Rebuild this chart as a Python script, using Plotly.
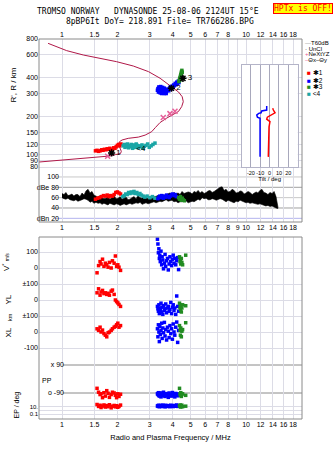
import plotly.graph_objects as go

# ------------------------------------------------------------------ data
TITLE_1 = "TROMSO NORWAY   DYNASONDE 25-08-06 2124UT 15°E"
TITLE_2 = "8pBP6It DoY= 218.891 File= TR766286.BPG"
WARNING = "HPTx is OFF!"
X_TITLE = "Radio and Plasma Frequency / MHz"

FREQ_TICKS_OUTER = [1, 1.5, 2, 3, 4, 5, 6, 7, 8, 10, 12, 14, 16, 18]
FREQ_TICKS_MID = [1, 1.5, 2, 3, 4, 5, 6, 7, 8, 9, 10, 12, 14, 16, 18]
FREQ_MINOR = [9]
HEIGHT_TICKS = [80, 90, 100, 120, 150, 200, 300, 400, 600, 800]
AMP_TICKS = [100, 80, 60, 40, 20]
AMP_TEXT = ["100", "dBe 80", "60", "40", "dBn 20"]
TILT_TICKS = [-20, -10, 0, 10, 20]
VS_TICKS = [100, 0, -100]
VS_TEXT = ["100", "0", "±100"]
YL_TICKS = [0, -100]
YL_TEXT = ["0", "±100"]
XL_TICKS = [0, -100]
XL_TEXT = ["0", "-100"]
PP_TICKS = [90, -90]
PP_TEXT = ["x 90", "o -90"]
EP_TICKS = [10, 0.1]
EP_TEXT = ["10.", "0.1"]
EP_MINOR = [1]

# true-height / plasma-frequency profile (MHz, km)
PROF_F = [0.75, 1.06, 1.36, 1.82, 1.95, 2.08, 2.10, 2.06, 2.03, 2.05, 2.12, 2.29, 2.60, 2.83,
          3.07, 3.22, 3.41, 3.71, 4.03, 4.29, 4.47, 4.56, 4.50, 4.30, 4.03, 3.80, 3.41, 2.95,
          2.44, 1.98, 1.61, 1.305, 1.06, 0.84]
PROF_H = [87.5, 91, 94.6, 97.5, 100, 102, 106, 112, 120, 126, 130, 134, 137, 142,
          151, 163, 178, 193, 205, 217, 237, 259, 283, 308, 330, 352, 395, 445,
          492, 532, 565, 600, 649, 740]
NEXT_F = [1.77, 3.55, 3.86, 4.11]
NEXT_H = [97, 195, 209, 218]

# echo traces in the ionogram (MHz, km)
I1_F = [1.52, 1.55, 1.58, 1.61, 1.64, 1.67, 1.70, 1.73, 1.76, 1.79, 1.82, 1.85, 1.88, 1.91,
        1.94, 1.97, 2.00, 2.03, 2.06, 2.09]
I1_H = [107, 108, 106, 107, 109, 108, 110, 109, 111, 110, 112, 109, 110, 113,
        112, 115, 118, 120, 117, 121]
I4_F = [2.15, 2.18, 2.20, 2.22, 2.25, 2.27, 2.30, 2.32, 2.35, 2.38, 2.40, 2.42, 2.45, 2.48,
        2.50, 2.53, 2.56, 2.60, 2.64, 2.68, 2.72, 2.76, 2.80, 2.86, 2.92, 2.98, 3.05, 3.12, 3.20]
I4_H = [117, 120, 114, 119, 116, 121, 113, 118, 115, 120, 117, 112, 119, 116,
        114, 121, 118, 113, 117, 115, 119, 112, 116, 118, 121, 114, 117, 120, 123]
I2_F = [3.30, 3.32, 3.34, 3.35, 3.37, 3.38, 3.40, 3.41, 3.43, 3.45, 3.46, 3.48, 3.50, 3.52,
        3.54, 3.56, 3.58, 3.60, 3.62, 3.64, 3.66, 3.68, 3.70, 3.73, 3.76, 3.80, 3.84, 3.88,
        3.92, 3.96, 4.00, 4.04, 4.08, 4.12, 4.16, 4.20, 4.24, 4.28, 4.32, 4.36,
        3.36, 3.44, 3.52, 3.60, 3.68, 3.48, 3.56]
I2_H = [318, 328, 308, 322, 314, 332, 305, 320, 312, 326, 302, 316, 310, 322,
        306, 318, 328, 300, 314, 308, 320, 304, 312, 318, 325, 315, 330, 338,
        326, 342, 335, 350, 345, 360, 352, 368, 358, 375, 365, 385,
        338, 340, 335, 330, 300, 300, 310]
I3_F = [4.32, 4.34, 4.36, 4.38, 4.40, 4.42, 4.44, 4.46, 4.48, 4.50, 4.40, 4.45]
I3_H = [372, 380, 392, 400, 410, 420, 432, 445, 455, 440, 385, 415]

# trace identification labels
LAB_F = [1.86, 3.93, 4.54]
LAB_H = [103, 330, 394]
LAB_T = ["1", "2", "3"]
LAB4_F = [2.68]
LAB4_H = [110]

# tilt inset (km, deg)
THX_H = [96, 156, 165, 181, 189, 196, 204, 212, 223, 230]
THX_D = [-1.4, -1.4, -0.6, 0.4, -3.1, -2.4, 2.2, 5.8, 4.0, 3.3]
THY_H = [96, 192, 196, 204, 210, 212, 219, 223, 240]
THY_D = [-10.2, -10.2, -13.0, -13.7, -11.6, -9.1, -8.4, -3.1, -3.1]

# amplitude band (MHz, upper dB, lower dB)
AMP_F = [1.00, 1.025, 1.05, 1.077, 1.105, 1.132, 1.16, 1.19, 1.22, 1.252, 1.285, 1.317, 1.35, 1.385,
         1.42, 1.455, 1.49, 1.53, 1.57, 1.61, 1.65, 1.69, 1.735, 1.777, 1.82, 1.87, 1.92, 1.97,
         2.02, 2.07, 2.12, 2.175, 2.23, 2.285, 2.34, 2.40, 2.46, 2.525, 2.59, 2.655, 2.72, 2.79,
         2.86, 2.935, 3.01, 3.085, 3.16, 3.24, 3.32, 3.405, 3.49, 3.585, 3.68, 3.77, 3.86, 3.96,
         4.06, 4.165, 4.27, 4.38, 4.49, 4.605, 4.72, 4.845, 4.97, 5.095, 5.22, 5.355, 5.49, 5.63,
         5.77, 5.92, 6.07, 6.225, 6.38, 6.545, 6.71, 6.88, 7.05, 7.23, 7.41, 7.60, 7.79, 7.99,
         8.19, 8.40, 8.61, 8.83, 9.06, 9.29, 9.52, 9.76, 10.0, 10.25, 10.5, 10.8, 11.1, 11.35,
         11.6, 11.9, 12.2, 12.5, 12.8, 13.15, 13.5, 13.85, 14.2, 14.55, 14.9]
AMP_HI = [68, 66, 70, 64, 65, 67, 63, 66, 66, 62, 69, 65, 73, 76,
          69, 72, 65, 63, 61, 64, 61, 58, 59, 62, 57, 60, 63, 58,
          59, 62, 57, 60, 61, 56, 57, 60, 62, 58, 64, 60, 59, 62,
          61, 58, 57, 60, 61, 63, 64, 62, 66, 64, 66, 68, 69, 66,
          70, 67, 69, 66, 72, 68, 69, 71, 70, 67, 72, 70, 74, 69,
          72, 68, 70, 73, 74, 70, 72, 75, 78, 80, 81, 74, 76, 71,
          72, 76, 74, 69, 70, 73, 72, 67, 69, 72, 70, 66, 69, 71,
          69, 74, 76, 70, 69, 66, 70, 68, 72, 62, 42]
AMP_LO = [60, 58, 57, 59, 56, 55, 54, 56, 53, 55, 56, 58, 57, 55,
          51, 53, 49, 51, 49, 50, 47, 49, 48, 46, 49, 47, 46, 48,
          47, 45, 46, 48, 46, 47, 49, 47, 48, 50, 49, 51, 47, 49,
          50, 48, 50, 51, 52, 50, 52, 53, 52, 54, 56, 53, 54, 55,
          52, 53, 50, 52, 52, 55, 54, 50, 51, 53, 52, 55, 57, 55,
          60, 58, 59, 56, 56, 58, 57, 55, 56, 58, 57, 55, 52, 55,
          54, 52, 50, 53, 52, 55, 54, 52, 50, 51, 49, 50, 49, 48,
          47, 48, 46, 45, 44, 45, 43, 44, 42, 40, 39]
A1_F = [1.52, 1.56, 1.60, 1.64, 1.68, 1.72, 1.76, 1.80, 1.84, 1.88, 1.92, 1.96, 2.00, 2.04, 2.08]
A1_DB = [57, 59, 60, 62, 64, 63, 65, 62, 64, 63, 66, 70, 71, 69, 67]
A4_F = [2.14, 2.18, 2.22, 2.26, 2.30, 2.34, 2.38, 2.42, 2.46, 2.50, 2.55, 2.60, 2.65, 2.70,
        2.76, 2.82, 2.90, 3.00, 3.10, 3.20]
A4_DB = [62, 64, 67, 66, 70, 68, 71, 69, 72, 68, 70, 66, 68, 65, 63, 61, 63, 60, 62, 59]
A2_F = [3.32, 3.36, 3.40, 3.44, 3.48, 3.52, 3.56, 3.60, 3.65, 3.70, 3.76, 3.82, 3.88, 3.94,
        4.00, 4.06, 4.12, 4.18]
A2_DB = [58, 61, 63, 60, 64, 62, 59, 63, 61, 65, 62, 60, 63, 66, 67, 64, 66, 62]
A3_F = [4.30, 4.35, 4.40, 4.45, 4.50, 4.55, 4.62]
A3_DB = [60, 57, 62, 55, 59, 56, 54]

# lower panel parameters per echo group
R_F = [1.55, 1.58, 1.61, 1.63, 1.66, 1.69, 1.72, 1.75, 1.78, 1.81, 1.85, 1.88, 1.92, 1.95, 1.98, 2.01, 2.04, 2.08]
R_VS = [-30, 15, 40, 25, 55, 10, 30, 20, 5, 35, 0, 45, 30, 75, 10, 20, 5, -15]
R_YL = [45, 70, 30, 50, 60, 40, 45, 35, 42, 30, 55, 62, 35, 0, -10, -18, -28, -40]
R_XL = [20, 10, 30, 0, 12, -10, -20, -30, -5, 0, 10, 20, 30, 35, 45, 55, 30, 40]
R_PP = [-60, -85, -100, -95, -120, -88, -110, -75, -92, -118, -100, -85, -90, -105, -120, -95, -112, -98]
R_EP = [40, 12, 25, 6, 15, 30, 8, 20, 10, 35, 5, 14, 22, 9, 18, 7, 12, 28]

B_F = [3.30, 3.32, 3.34, 3.36, 3.38, 3.40, 3.42, 3.45, 3.48, 3.50, 3.53, 3.56, 3.60, 3.63, 3.66,
       3.70, 3.74, 3.78, 3.82, 3.86, 3.90, 3.94, 3.98, 4.02, 4.06, 4.10, 4.15, 4.20, 4.25, 4.30]
B_VS = [180, 150, 95, 120, 60, 80, 40, 105, 20, 70, 50, -5, 30, 85, 10,
        45, 60, -12, 25, 70, 40, 15, 55, 80, 30, 60, 20, 45, 65, -10]
B_YL = [-40, -55, -70, -30, -85, -50, -60, -20, -75, -45, -90, -35, -65, -55, -25,
        -80, -50, -40, -70, -60, -15, -85, -45, -30, -65, -50, -90, 25, -40, -70]
B_XL = [20, -30, 45, 0, -60, 35, -15, 10, 55, -40, 25, -5, 60, -25, 15,
        -50, 30, 5, -35, 40, -10, 20, -45, 50, 0, -20, 30, 62, -65, 10]
B_PP = [-95, -100, -88, -105, -110, -92, -98, -115, -90, -102, -108, -85, -96, -112, -100,
        -94, -106, -118, -90, -99, -104, -110, -87, -97, -102, -115, -93, -100, -108, -96]
B_EP = [15, 20, 12, 25, 10, 18, 14, 22, 11, 16, 28, 13, 19, 9, 24,
        15, 12, 20, 17, 10, 26, 14, 18, 11, 22, 16, 13, 30, 12, 19]

G_F = [4.35, 4.38, 4.40, 4.42, 4.45, 4.48, 4.52, 4.70]
G_VS = [70, 40, 55, 25, 60, 35, 20, 80]
G_YL = [-20, -45, -60, -35, -75, -50, -30, -36]
G_XL = [40, 10, -20, 25, -30, 5, 15, 58]
G_PP = [-60, -95, -105, -88, -112, -100, -95, -105]
G_EP = [20, 12, 30, 8, 15, 25, 10, 14]

LEGEND_TOP = ["T60dB", "UnCl", "NeXtYZ", "Θx–Θy"]
LEGEND_TRACES = ["✱1", "✱2", "✱3", "&lt;4"]

assert len(AMP_F) == len(AMP_HI) == len(AMP_LO)

# ------------------------------------------------------------------ layout helpers
W, H = 335, 451
ML, MR, MT, MB = 39, 33, 39, 32
PW = W - ML - MR
PH = H - MT - MB


def py(ypx):
    return (H - MB - ypx) / PH


def px(xpx):
    return (xpx - ML) / PW


RED, BLUE, GREEN, TEAL = "#ff0000", "#0000ff", "#228b22", "#1aa6a6"
CRIMSON, PINK = "#b01848", "#e8609a"
GRID = "#dcdce6"
FRAME = "#8a8a8a"
FONT = "Liberation Sans"
TF = dict(family=FONT, size=7, color="black")
SQ = 3.5

fig = go.Figure()


def sq(x, y, color, xa, ya):
    fig.add_trace(go.Scatter(x=x, y=y, mode="markers", xaxis=xa, yaxis=ya,
                             marker=dict(symbol="square", size=SQ, color=color, line=dict(width=0))))


# amplitude band
fig.add_trace(go.Scatter(x=AMP_F + AMP_F[::-1], y=AMP_HI + AMP_LO[::-1], mode="lines",
                         fill="toself", fillcolor="black", line=dict(color="black", width=0.6),
                         xaxis="x2", yaxis="y6"))
sq(A1_F, A1_DB, RED, "x2", "y6")
sq(A4_F, A4_DB, TEAL, "x2", "y6")
sq(A2_F, A2_DB, BLUE, "x2", "y6")
sq(A3_F, A3_DB, GREEN, "x2", "y6")

# ionogram
fig.add_trace(go.Scatter(x=PROF_F, y=PROF_H, mode="lines", line=dict(color=CRIMSON, width=1),
                         xaxis="x2", yaxis="y7"))
fig.add_trace(go.Scatter(x=NEXT_F, y=NEXT_H, mode="markers", xaxis="x2", yaxis="y7",
                         marker=dict(symbol="x-thin-open", size=5, color=PINK, line=dict(width=1.5, color=PINK))))
sq(I1_F, I1_H, RED, "x2", "y7")
sq(I4_F, I4_H, TEAL, "x2", "y7")
sq(I2_F, I2_H, BLUE, "x2", "y7")
sq(I3_F, I3_H, GREEN, "x2", "y7")
fig.add_trace(go.Scatter(x=LAB_F, y=LAB_H, text=LAB_T, mode="markers+text", textposition="middle right",
                         textfont=dict(family=FONT, size=8, color="black"), xaxis="x2", yaxis="y7",
                         marker=dict(symbol="asterisk-open", size=6, color="black", line=dict(width=1.5, color="black"))))
fig.add_trace(go.Scatter(x=LAB4_F, y=LAB4_H, text=["&lt;4"], mode="text",
                         textfont=dict(family=FONT, size=8, color="black"), xaxis="x2", yaxis="y7"))
# empty trace so the top frequency axis exists
fig.add_trace(go.Scatter(x=FREQ_TICKS_OUTER, y=[None] * len(FREQ_TICKS_OUTER), mode="markers",
                         xaxis="x3", yaxis="y7"))

# tilt inset
fig.add_trace(go.Scatter(x=THY_D, y=THY_H, mode="lines", line=dict(color=BLUE, width=1.5), xaxis="x4", yaxis="y8"))
fig.add_trace(go.Scatter(x=THX_D, y=THX_H, mode="lines", line=dict(color=RED, width=1.5), xaxis="x4", yaxis="y8"))

# lower panels
for F, VS, YL, XL, PP, EP, c in [(R_F, R_VS, R_YL, R_XL, R_PP, R_EP, RED),
                                 (B_F, B_VS, B_YL, B_XL, B_PP, B_EP, BLUE),
                                 (G_F, G_VS, G_YL, G_XL, G_PP, G_EP, GREEN)]:
    sq(F, VS, c, "x", "y5")
    sq(F, YL, c, "x", "y4")
    sq(F, XL, c, "x", "y3")
    sq(F, PP, c, "x", "y2")
    sq(F, EP, c, "x", "y")

XR = [-0.125, 1.304]
cx = dict(type="log", range=XR, showgrid=True, gridcolor=GRID, gridwidth=1, tickangle=0,
          zeroline=False, showline=False, ticks="", tickfont=TF, fixedrange=True)
cy = dict(showgrid=True, gridcolor=GRID, gridwidth=1, zeroline=False, showline=False, ticks="",
          tickfont=TF, fixedrange=True)
minor_x = dict(tickvals=FREQ_MINOR, showgrid=True, gridcolor=GRID, gridwidth=1, ticks="")

layout = dict(
    width=W, height=H, margin=dict(l=ML, r=MR, t=MT, b=MB, pad=0),
    paper_bgcolor="white", plot_bgcolor="white", showlegend=False, hovermode=False,
    font=dict(family=FONT, size=7, color="black"),
    xaxis=dict(cx, domain=[0, 1], anchor="y", tickvals=FREQ_TICKS_OUTER,
               ticktext=[str(v) for v in FREQ_TICKS_OUTER], minor=minor_x,
               title=dict(text=X_TITLE, font=dict(family=FONT, size=7.5), standoff=7)),
    xaxis2=dict(cx, domain=[0, 1], anchor="y6", tickvals=FREQ_TICKS_MID,
                ticktext=[str(v) for v in FREQ_TICKS_MID]),
    xaxis3=dict(cx, overlaying="x2", anchor="y7", side="top", tickvals=FREQ_TICKS_OUTER,
                ticktext=[str(v) for v in FREQ_TICKS_OUTER], showgrid=False),
    xaxis4=dict(range=[-30, 30], domain=[px(241.5), px(297.7)], anchor="y8", tickvals=TILT_TICKS,
                ticktext=[str(t) for t in TILT_TICKS], showgrid=True, gridcolor="#a8a8bc", tickangle=0,
                zeroline=False, showline=True, mirror=True, linecolor="#b4b4c8", ticks="",
                tickfont=dict(family=FONT, size=5.5), fixedrange=True,
                title=dict(text="Tilt / deg", font=dict(family=FONT, size=6), standoff=0)),
    yaxis=dict(cy, type="log", domain=[py(419), py(400)], range=[-2.37, 2.836], anchor="x",
               tickvals=EP_TICKS, ticktext=EP_TEXT, tickfont=dict(family=FONT, size=6),
               minor=dict(tickvals=EP_MINOR, showgrid=True, gridcolor=GRID, ticks="")),
    yaxis2=dict(cy, domain=[py(400), py(356)], range=[-135, 147.86], anchor="free", position=px(64),
                tickvals=PP_TICKS, ticktext=PP_TEXT, showgrid=False),
    yaxis3=dict(cy, domain=[py(356), py(318)], range=[-150, 87.5], anchor="x",
                tickvals=XL_TICKS, ticktext=XL_TEXT),
    yaxis4=dict(cy, domain=[py(318), py(286)], range=[-112.5, 87.5], anchor="x",
                tickvals=YL_TICKS, ticktext=YL_TEXT),
    yaxis5=dict(cy, domain=[py(286), py(237)], range=[-112.5, 193.75], anchor="x",
                tickvals=VS_TICKS, ticktext=VS_TEXT),
    yaxis6=dict(cy, domain=[py(222), py(172)], range=[12.9, 109.6], anchor="free", position=px(59),
                tickvals=AMP_TICKS, ticktext=AMP_TEXT, showgrid=False),
    yaxis7=dict(cy, type="log", domain=[py(172), py(39)], range=[1.86403, 2.90309], anchor="x2",
                tickvals=HEIGHT_TICKS, ticktext=[str(v) for v in HEIGHT_TICKS]),
    yaxis8=dict(type="log", domain=[py(167), py(65)], range=[1.90309, 2.70], anchor="x4",
                showgrid=False, showticklabels=False, zeroline=False, showline=True, mirror=True,
                linecolor="#b4b4c8", ticks="", fixedrange=True),
)
fig.update_layout(**layout)

shapes = []
amp_line_colors = {100: "#c8c8c8", 80: "#a0a0a0", 60: "#c8c8c8", 40: "#a0a0a0", 20: "#b4b4ee"}
for v in AMP_TICKS:
    shapes.append(dict(type="line", xref="paper", yref="y6", x0=px(55), x1=1, y0=v, y1=v,
                       line=dict(color=amp_line_colors[v], width=1), layer="below"))
for v in PP_TICKS:
    shapes.append(dict(type="line", xref="paper", yref="y2", x0=px(63), x1=1, y0=v, y1=v,
                       line=dict(color=FRAME, width=1), layer="below"))
shapes.append(dict(type="rect", xref="paper", yref="paper", x0=0, x1=1, y0=py(222), y1=1,
                   line=dict(color=FRAME, width=1), layer="above"))
shapes.append(dict(type="rect", xref="paper", yref="paper", x0=0, x1=1, y0=0, y1=py(237),
                   line=dict(color=FRAME, width=1), layer="above"))
fig.update_layout(shapes=shapes)

MONO = "DejaVu Sans Mono"
ann = [
    dict(text=TITLE_1 + "<br>" + "      " + TITLE_2, x=px(35), y=py(16.2), xanchor="left", align="left",
         font=dict(family=MONO, size=8, color="black")),
    dict(text=WARNING, x=px(303), y=py(8), font=dict(family=MONO, size=8, color="#ff0000"),
         bgcolor="#ffff00", bordercolor="#ff0000", borderwidth=1, borderpad=0),
    dict(text="R', R / km", x=px(12.5), y=py(85), textangle=-90, font=dict(family=FONT, size=8)),
    dict(text="V<sup>*</sup> <span style='font-size:5px'>m/s</span>", x=px(6), y=py(262), textangle=-90,
         font=dict(family=FONT, size=8)),
    dict(text="YL", x=px(7.5), y=py(300), textangle=-90, font=dict(family=FONT, size=8)),
    dict(text="km", x=px(10), y=py(317), textangle=-90, font=dict(family=FONT, size=5.5)),
    dict(text="XL", x=px(7.5), y=py(333), textangle=-90, font=dict(family=FONT, size=8)),
    dict(text="EP / deg", x=px(16.5), y=py(405), textangle=-90, font=dict(family=FONT, size=7)),
    dict(text="PP", x=px(46.5), y=py(380), font=dict(family=FONT, size=7)),
]
top_marks = ["<span style='color:#999999'>—</span>",
             "<span style='color:#000000'>·</span> ",
             "<span style='color:%s'>+</span>" % PINK,
             "<span style='color:%s'>–</span>" % PINK]
top_y = [43.3, 48.8, 54.3, 59.8]
for yy, m, t in zip(top_y, top_marks, LEGEND_TOP):
    ann.append(dict(text=m + t, x=px(303), y=py(yy), xanchor="left", font=dict(family=FONT, size=6)))
trace_cols = [RED, BLUE, GREEN, TEAL]
trace_y = [72.7, 80.0, 86.7, 93.3]
for yy, c, t in zip(trace_y, trace_cols, LEGEND_TRACES):
    ann.append(dict(text="<span style='color:%s'>■</span> %s" % (c, t), x=px(305), y=py(yy),
                    xanchor="left", font=dict(family=FONT, size=6.5)))
for a in ann:
    a.setdefault("xref", "paper")
    a.setdefault("yref", "paper")
    a.setdefault("showarrow", False)
    a.setdefault("xanchor", "center")
    a.setdefault("yanchor", "middle")
fig.update_layout(annotations=ann)

fig.write_html("out.html")
